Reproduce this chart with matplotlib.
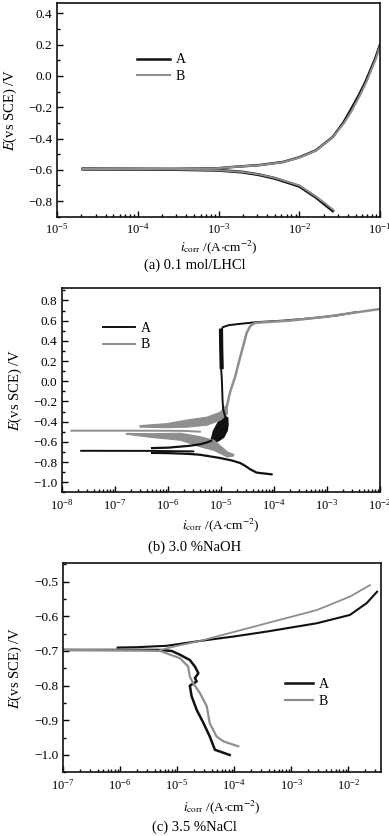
import numpy as np
import matplotlib
matplotlib.use("Agg")
import matplotlib.pyplot as plt
from matplotlib.ticker import MultipleLocator, FuncFormatter, LogLocator, LogFormatterMathtext, NullFormatter

plt.rcParams['font.family'] = ['Liberation Serif', 'DejaVu Serif']
plt.rcParams['mathtext.fontset'] = 'stix'

COL_A = '#111111'
COL_B = '#8e8e8e'

# (a) 0.1 mol/L HCl
a_A_anod_i = [2.1e-5, 1e-4, 3e-4, 1e-3, 1.4e-3, 3.2e-3, 6.3e-3, 1e-2, 1.6e-2, 2.6e-2, 3.5e-2, 4.3e-2, 5.5e-2, 6.7e-2, 8.7e-2, 1e-1]
a_A_anod_E = [-0.595, -0.595, -0.594, -0.59, -0.583, -0.57, -0.55, -0.52, -0.476, -0.39, -0.30, -0.22, -0.12, -0.03, 0.11, 0.2]
a_B_anod_i = [2.1e-5, 1e-4, 3e-4, 1e-3, 1.4e-3, 3.2e-3, 6.3e-3, 1e-2, 1.6e-2, 2.6e-2, 3.6e-2, 4.5e-2, 5.7e-2, 6.9e-2, 8.9e-2, 1e-1]
a_B_anod_E = [-0.595, -0.595, -0.594, -0.59, -0.583, -0.571, -0.551, -0.522, -0.478, -0.392, -0.30, -0.22, -0.12, -0.03, 0.11, 0.19]
a_A_cath_i = [2.1e-5, 1e-4, 3e-4, 1e-3, 2e-3, 3.2e-3, 5e-3, 1e-2, 1.6e-2, 2e-2, 2.6e-2]
a_A_cath_E = [-0.595, -0.596, -0.598, -0.603, -0.615, -0.632, -0.655, -0.705, -0.775, -0.815, -0.862]
a_B_cath_i = [2.1e-5, 1e-4, 3e-4, 1e-3, 2e-3, 3.2e-3, 5e-3, 1e-2, 1.6e-2, 2.1e-2, 2.7e-2]
a_B_cath_E = [-0.595, -0.596, -0.598, -0.603, -0.614, -0.63, -0.652, -0.70, -0.77, -0.815, -0.86]

# (b) 3.0 % NaOH
b_A_long_i = [2.3e-8, 5e-7, 3e-6]
b_A_long_E = [-0.689, -0.69, -0.695]
b_A_cath_i = [5e-7, 1e-6, 2.5e-6, 4e-6, 9.5e-6, 1.6e-5, 2.3e-5, 2.9e-5, 3.5e-5, 4.7e-5, 9e-5]
b_A_cath_E = [-0.71, -0.712, -0.72, -0.728, -0.76, -0.785, -0.81, -0.84, -0.87, -0.905, -0.922]
b_A_anod_i = [5e-7, 1e-6, 2.5e-6, 4e-6, 5.5e-6, 6.5e-6]
b_A_anod_E = [-0.662, -0.658, -0.64, -0.625, -0.605, -0.59]
b_A_blob_i = [6.2e-6, 7e-6, 8.5e-6, 1.02e-5, 1.2e-5, 1.38e-5, 1.4e-5, 1.35e-5, 1.15e-5, 9.5e-6, 7.5e-6]
b_A_blob_E = [-0.60, -0.49, -0.41, -0.35, -0.34, -0.36, -0.43, -0.49, -0.56, -0.59, -0.62]
b_A_pass_i = [1.2e-5, 1.1e-5, 1.07e-5, 1.04e-5, 1.0e-5, 1.0e-5, 1.08e-5, 1.4e-5, 2.2e-5, 4.7e-5, 1.5e-4, 5.5e-4, 1.5e-3, 3.6e-3]
b_A_pass_E = [-0.35, -0.28, -0.19, 0.0, 0.15, 0.5, 0.535, 0.555, 0.567, 0.585, 0.60, 0.625, 0.65, 0.685]
b_A_thick_i = [1.03e-5, 1.01e-5, 1.0e-5]
b_A_thick_E = [0.14, 0.32, 0.5]

b_B_long_i = [1.5e-8, 5e-7, 2e-6, 4e-6]
b_B_long_E = [-0.49, -0.49, -0.492, -0.50]
b_B_up_i = [2.9e-7, 9.3e-7, 2.2e-6, 5.4e-6, 9.6e-6, 1.29e-5]
b_B_up_lo = [-0.45, -0.455, -0.45, -0.43, -0.38, -0.32]
b_B_up_hi = [-0.435, -0.415, -0.38, -0.35, -0.30, -0.22]
b_B_pass_i = [1.29e-5, 1.48e-5, 1.86e-5, 2.2e-5, 2.6e-5, 3.05e-5, 3.6e-5, 4.4e-5, 7e-5, 2e-4, 1e-3, 1e-2]
b_B_pass_E = [-0.25, -0.11, 0.05, 0.2, 0.34, 0.48, 0.55, 0.577, 0.585, 0.60, 0.64, 0.715]
b_B_low_i = [1.6e-7, 4.5e-7, 1.7e-6, 4e-6, 7.2e-6, 1.29e-5, 1.7e-5]
b_B_low_hi = [-0.512, -0.515, -0.51, -0.545, -0.58, -0.695, -0.72]
b_B_low_lo = [-0.52, -0.55, -0.58, -0.645, -0.68, -0.745, -0.735]

# (c) 3.5 % NaCl
c_A_cath_i = [1e-7, 1e-6, 5e-6, 8e-6, 1.12e-5, 1.66e-5, 2.04e-5, 2.34e-5, 2.04e-5, 2.19e-5, 1.66e-5, 1.78e-5, 2.19e-5, 2.88e-5, 3.72e-5, 4.57e-5, 8.3e-5]
c_A_cath_E = [-0.697, -0.697, -0.697, -0.700, -0.711, -0.726, -0.745, -0.764, -0.778, -0.788, -0.80, -0.83, -0.87, -0.908, -0.947, -0.985, -1.0]
c_B_cath_i = [1e-7, 1e-6, 3e-6, 5e-6, 1.12e-5, 1.55e-5, 1.66e-5, 1.9e-5, 2.5e-5, 3.3e-5, 3.7e-5, 4.9e-5, 6.5e-5, 1.17e-4]
c_B_cath_E = [-0.697, -0.698, -0.699, -0.70, -0.721, -0.745, -0.774, -0.793, -0.822, -0.86, -0.908, -0.947, -0.961, -0.975]
c_A_anod_i = [9e-7, 2e-6, 6.5e-6, 2.5e-5, 1e-4, 3.7e-4, 2.8e-3, 1.07e-2, 2.1e-2, 3.2e-2]
c_A_anod_E = [-0.69, -0.689, -0.685, -0.671, -0.658, -0.644, -0.62, -0.596, -0.562, -0.529]
c_B_anod_i = [5e-6, 1e-5, 2.5e-5, 3.7e-4, 2.8e-3, 1.07e-2, 2.4e-2]
c_B_anod_E = [-0.697, -0.685, -0.671, -0.62, -0.582, -0.543, -0.51]

W, H = 389, 836
fig = plt.figure(figsize=(W / 100, H / 100), dpi=100)


def frac(l, r, t, b):
    return [l / W, 1 - b / H, (r - l) / W, (b - t) / H]


def minus_fmt(v, pos):
    return ('%.1f' % v).replace('-', '\u2212')


def style(ax, xlim, ylim, major, minor):
    ax.set_xscale('log')
    ax.set_xlim(*xlim)
    ax.set_ylim(*ylim)
    ax.yaxis.set_major_locator(MultipleLocator(major))
    ax.yaxis.set_minor_locator(MultipleLocator(minor))
    ax.yaxis.set_major_formatter(FuncFormatter(minus_fmt))
    ax.xaxis.set_major_locator(LogLocator(base=10, numticks=12))
    ax.xaxis.set_minor_locator(LogLocator(base=10, subs=np.arange(2, 10), numticks=12))
    ax.xaxis.set_major_formatter(LogFormatterMathtext())
    ax.xaxis.set_minor_formatter(NullFormatter())
    ax.tick_params(which='both', direction='in', top=False, right=False, labelsize=9.5, width=1.0)
    ax.tick_params(axis='x', labelsize=9)
    ax.tick_params(which='major', length=4)
    ax.tick_params(which='minor', length=2.2)
    ax.tick_params(axis='x', pad=4)
    for s in ax.spines.values():
        s.set_linewidth(1.2)
        s.set_color('#111111')


def labels(ax, ylx, xly, leg_xy, hl):
    ax.set_ylabel(r'$\mathit{E}$(vs SCE) /V', fontsize=10.5)
    ax.yaxis.set_label_coords(ylx, 0.5)
    ax.yaxis.label.set_va('center')
    ax.set_xlabel(r'$\mathit{i}_{\mathrm{corr}}$ /(A$\cdot$cm$^{-2}$)', fontsize=9.5)
    ax.xaxis.set_label_coords(0.5, xly)
    ax.xaxis.label.set_va('center')
    ax.legend(loc='upper left', bbox_to_anchor=leg_xy, frameon=False, fontsize=10,
              handlelength=hl, handletextpad=0.4, borderpad=0, borderaxespad=0, labelspacing=0.25)


# panel a
ax = fig.add_axes(frac(57, 380, 3.3, 216.7))
ax.plot(a_A_anod_i, a_A_anod_E, color=COL_A, lw=1.8, label='A')
ax.plot(a_A_cath_i, a_A_cath_E, color=COL_A, lw=2.2)
ax.plot(a_B_anod_i, a_B_anod_E, color=COL_B, lw=1.5, label='B')
ax.plot(a_B_cath_i, a_B_cath_E, color=COL_B, lw=1.3)
style(ax, (1e-5, 1e-1), (-0.9, 0.465), 0.2, 0.1)
labels(ax, -0.146, -0.142, (0.248, 0.765), 2.4)
fig.text(0.5, 1 - 265 / H, '(a) 0.1 mol/LHCl', ha='center', va='center', fontsize=10.5)

# panel b
ax = fig.add_axes(frac(62, 380, 288.3, 492.3))
ax.plot(b_A_long_i, b_A_long_E, color=COL_A, lw=1.4, label='A')
ax.plot(b_A_cath_i, b_A_cath_E, color=COL_A, lw=1.6)
ax.plot(b_A_anod_i, b_A_anod_E, color=COL_A, lw=1.6)
ax.fill(b_A_blob_i, b_A_blob_E, color=COL_A, lw=0)
ax.plot(b_A_pass_i, b_A_pass_E, color=COL_A, lw=1.4)
ax.plot(b_A_thick_i, b_A_thick_E, color=COL_A, lw=3.0)
ax.plot(b_B_long_i, b_B_long_E, color=COL_B, lw=1.4, label='B')
ax.fill_between(b_B_up_i, b_B_up_lo, b_B_up_hi, color=COL_B, lw=0.8)
ax.plot(b_B_pass_i, b_B_pass_E, color=COL_B, lw=1.8)
ax.fill_between(b_B_low_i, b_B_low_lo, b_B_low_hi, color=COL_B, lw=0.8)
style(ax, (1e-8, 1e-2), (-1.1, 0.92), 0.2, 0.1)
labels(ax, -0.148, -0.160, (0.129, 0.835), 2.3)
fig.text(0.5, 1 - 547 / H, '(b) 3.0 %NaOH', ha='center', va='center', fontsize=10.5)

# panel c
ax = fig.add_axes(frac(63.3, 381, 563.3, 772.3))
ax.plot(c_A_cath_i, c_A_cath_E, color=COL_A, lw=1.8, label='A')
ax.plot(c_A_anod_i, c_A_anod_E, color=COL_A, lw=1.5)
ax.plot(c_B_cath_i, c_B_cath_E, color=COL_B, lw=1.6, label='B')
ax.plot(c_B_anod_i, c_B_anod_E, color=COL_B, lw=1.3)
style(ax, (1e-7, 3.75e-2), (-1.05, -0.447), 0.1, 0.05)
labels(ax, -0.152, -0.166, (0.698, 0.45), 2.0)
fig.text(0.5, 1 - 827 / H, '(c) 3.5 %NaCl', ha='center', va='center', fontsize=10.5)

fig.savefig('out.png', dpi=100)
